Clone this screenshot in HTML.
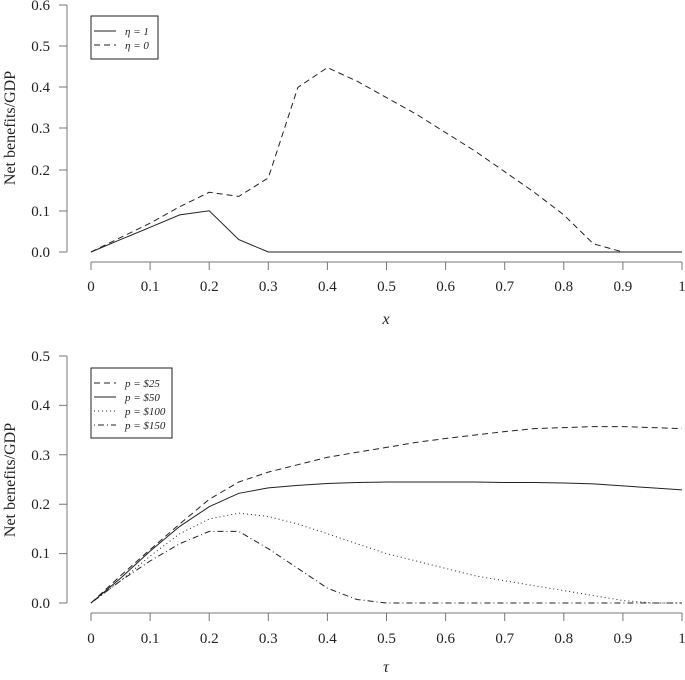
<!DOCTYPE html>
<html><head><meta charset="utf-8"><style>
body{margin:0;background:#fff}
text{font-family:"Liberation Serif",serif;fill:#222}
</style></head><body>
<svg id="s" width="685" height="675" xmlns="http://www.w3.org/2000/svg">
<g stroke="#777" fill="none" stroke-width="1">
<path d="M67,5V252M59,5H67M59,46H67M59,87H67M59,128H67M59,170H67M59,211H67M59,252H67"/>
<path d="M91,262H682"/>
<path d="M67,356V603M59,356H67M59,405.4H67M59,454.8H67M59,504.2H67M59,553.6H67M59,603H67"/>
<path d="M91,613H682"/>
</g>
<g id="ticks" stroke="#777"></g>
<g font-size="15" text-anchor="end">
<text x="50" y="10">0.6</text><text x="50" y="51">0.5</text><text x="50" y="92">0.4</text><text x="50" y="133">0.3</text><text x="50" y="175">0.2</text><text x="50" y="216">0.1</text><text x="50" y="257">0.0</text>
<text x="50" y="361">0.5</text><text x="50" y="410">0.4</text><text x="50" y="460">0.3</text><text x="50" y="509">0.2</text><text x="50" y="558">0.1</text><text x="50" y="608">0.0</text>
</g>
<g id="xl" font-size="15" text-anchor="middle"></g>
<text x="15" y="128" font-size="16" text-anchor="middle" transform="rotate(-90 15 128)">Net benefits/GDP</text>
<text x="15" y="480" font-size="16" text-anchor="middle" transform="rotate(-90 15 480)">Net benefits/GDP</text>
<text x="386" y="324" font-size="16" font-style="italic" text-anchor="middle">x</text>
<text x="386" y="672" font-size="16" font-style="italic" text-anchor="middle">τ</text>
<g id="lines" fill="none" stroke="#222" stroke-width="1"></g>
<rect x="91" y="16" width="67" height="43" fill="none" stroke="#222"/>
<g stroke="#222"><path d="M94,31H116"/><path d="M94,45H116" stroke-dasharray="6,4"/></g>
<g font-size="11" font-style="italic"><text x="125" y="35">η = 1</text><text x="125" y="49">η = 0</text></g>
<rect x="91" y="368" width="81" height="70" fill="none" stroke="#222"/>
<g stroke="#222"><path d="M94,383H116" stroke-dasharray="6,4"/><path d="M94,397H116"/><path d="M94,411H116" stroke-dasharray="1,3"/><path d="M94,425H116" stroke-dasharray="1,3,6,3"/></g>
<g font-size="11" font-style="italic"><text x="125" y="387">p = $25</text><text x="125" y="401">p = $50</text><text x="125" y="415">p = $100</text><text x="125" y="429">p = $150</text></g>
</svg>
<script>
var ns="http://www.w3.org/2000/svg";
function el(p,t,a,txt){var e=document.createElementNS(ns,t);for(var k in a)e.setAttribute(k,a[k]);if(txt)e.textContent=txt;document.getElementById(p).appendChild(e);}
var labs=["0","0.1","0.2","0.3","0.4","0.5","0.6","0.7","0.8","0.9","1"];
for(var i=0;i<=10;i++){var x=91+59.1*i;
el("ticks","path",{d:"M"+x+",262V270M"+x+",613V621"});
el("xl","text",{x:x,y:291},labs[i]);el("xl","text",{x:x,y:643},labs[i]);}
function line(ys,y0,s,dash){var d="";for(var i=0;i<ys.length;i++){var x=91+591*i/(ys.length-1);d+=(i?"L":"M")+x.toFixed(1)+","+(y0-ys[i]*s).toFixed(1);}
var a={d:d};if(dash)a["stroke-dasharray"]=dash;el("lines","path",a);}
var z=[0,0,0,0,0,0,0,0,0,0,0,0,0,0,0];
line([0,0.03,0.06,0.09,0.1,0.03].concat(z),252,411.7);
line([0,0.035,0.07,0.11,0.145,0.135,0.18,0.4,0.448,0.415,0.375,0.335,0.29,0.245,0.195,0.145,0.09,0.02,0,0,0],252,411.7,"6,4");
var S=494;
line([0,0.055,0.108,0.16,0.21,0.245,0.265,0.28,0.295,0.305,0.315,0.325,0.333,0.34,0.347,0.353,0.355,0.357,0.357,0.355,0.353],603,S,"6,4");
line([0,0.05,0.105,0.155,0.195,0.222,0.233,0.238,0.242,0.244,0.245,0.245,0.245,0.245,0.244,0.244,0.243,0.241,0.237,0.233,0.229],603,S);
line([0,0.045,0.095,0.14,0.17,0.182,0.175,0.16,0.14,0.12,0.1,0.085,0.07,0.055,0.045,0.035,0.025,0.015,0.005,0,0],603,S,"1,3");
line([0,0.045,0.085,0.12,0.145,0.145,0.11,0.07,0.03,0.007,0,0,0,0,0,0,0,0,0,0,0],603,S,"1,3,6,3");
</script>
</body></html>
